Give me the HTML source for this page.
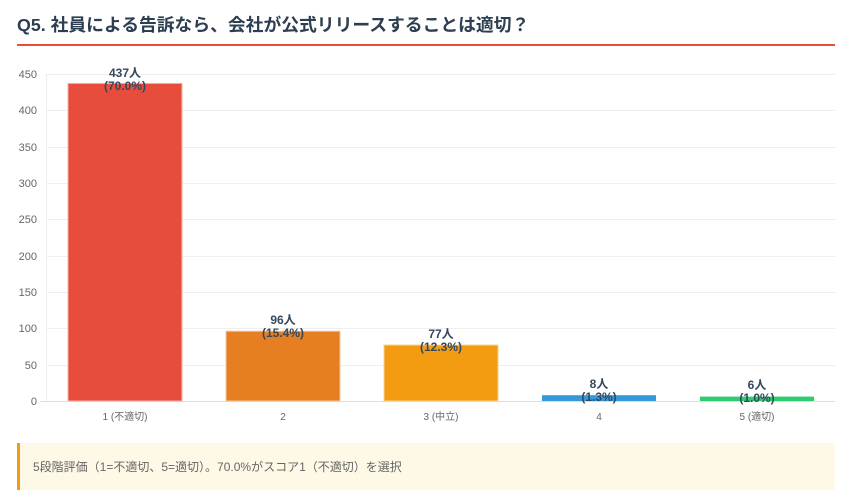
<!DOCTYPE html>
<html><head><meta charset="utf-8"><style>
body{margin:0;background:#fff;width:855px;height:502px;overflow:hidden;font-family:"Liberation Sans","Noto Sans CJK JP",sans-serif}
</style></head><body>
<svg width="855" height="502" xmlns="http://www.w3.org/2000/svg" style="position:absolute;left:0;top:0;font-family:'Liberation Sans','Noto Sans CJK JP',sans-serif">
<text x="17" y="31" font-size="17.8" font-weight="bold" fill="#2c3e50">Q5. 社員による告訴なら、会社が公式リリースすることは適切？</text>
<rect x="17" y="44" width="818" height="2" fill="#e74c3c"/>
<g stroke="#eeeeee" stroke-width="1">
<line x1="46" y1="74.5" x2="835" y2="74.5"/><line x1="46" y1="110.5" x2="835" y2="110.5"/>
<line x1="46" y1="147.5" x2="835" y2="147.5"/><line x1="46" y1="183.5" x2="835" y2="183.5"/>
<line x1="46" y1="219.5" x2="835" y2="219.5"/><line x1="46" y1="256.5" x2="835" y2="256.5"/>
<line x1="46" y1="292.5" x2="835" y2="292.5"/><line x1="46" y1="328.5" x2="835" y2="328.5"/>
<line x1="46" y1="365.5" x2="835" y2="365.5"/>
<line x1="46.5" y1="74" x2="46.5" y2="401"/>
</g>
<line x1="40" y1="401.5" x2="835" y2="401.5" stroke="#dddddd"/>
<g font-size="11" fill="#666" text-anchor="end">
<text x="37" y="78">450</text><text x="37" y="114">400</text><text x="37" y="151">350</text>
<text x="37" y="187">300</text><text x="37" y="223">250</text><text x="37" y="260">200</text>
<text x="37" y="296">150</text><text x="37" y="332">100</text><text x="37" y="369">50</text>
<text x="37" y="405">0</text>
</g>
<rect x="68" y="83.4" width="114" height="317.6" fill="#e74c3c" stroke="#f5b5ad" stroke-width="1"/>
<rect x="226" y="331.2" width="114" height="69.8" fill="#e67e22" stroke="#f5c8a0" stroke-width="1"/>
<rect x="384" y="345" width="114" height="56" fill="#f39c12" stroke="#f8d590" stroke-width="1"/>
<rect x="542" y="395.2" width="114" height="5.8" fill="#3498db"/>
<rect x="700" y="396.6" width="114" height="4.4" fill="#2ecc71"/>
<g font-size="12" font-weight="bold" fill="#34495e" text-anchor="middle">
<text x="125" y="77">437人</text><text x="125" y="90">(70.0%)</text>
<text x="283" y="324">96人</text><text x="283" y="337">(15.4%)</text>
<text x="441" y="338">77人</text><text x="441" y="351">(12.3%)</text>
<text x="599" y="388">8人</text><text x="599" y="401">(1.3%)</text>
<text x="757" y="389">6人</text><text x="757" y="402">(1.0%)</text>
</g>
<g font-size="10" fill="#666" text-anchor="middle">
<text x="125" y="420">1 (不適切)</text><text x="283" y="420">2</text><text x="441" y="420">3 (中立)</text>
<text x="599" y="420">4</text><text x="757" y="420">5 (適切)</text>
</g>
<rect x="17" y="443" width="818" height="47" rx="3" fill="#fef8e7"/>
<rect x="17" y="443" width="3" height="47" fill="#f39c12"/>
<text x="33" y="471" font-size="12" fill="#666">5段階評価（1=不適切、5=適切）。70.0%がスコア1（不適切）を選択</text>
</svg>
</body></html>
